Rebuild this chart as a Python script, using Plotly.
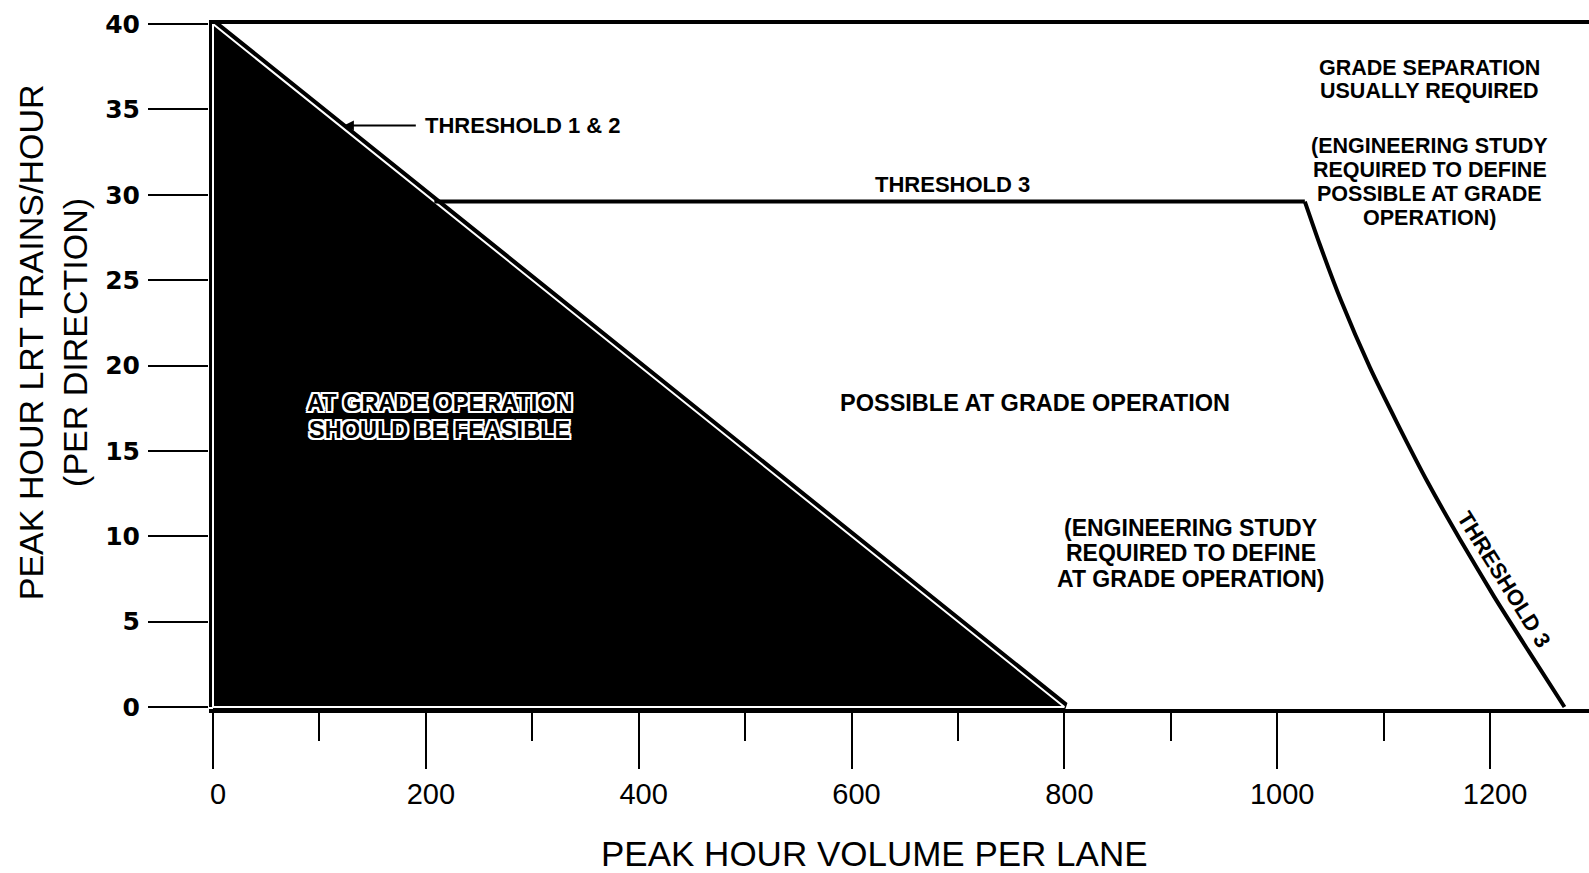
import plotly.graph_objects as go

# ---------------- data ----------------
# region where at-grade operation should be feasible (Threshold 1 & 2)
region_x = [0, 0, 800, 0]
region_y = [0, 40, 0, 0]

# Threshold 3 boundary: flat part, then curved part
thr3_flat_x = [208, 1026]
thr3_flat_y = [29.6, 29.6]
thr3_curve_x = [1026, 1040, 1060, 1087, 1113, 1142, 1172, 1204, 1236, 1270]
thr3_curve_y = [29.6, 27.1, 23.8, 19.9, 16.6, 13.1, 9.8, 6.45, 3.3, 0]

x_ticks = [0, 200, 400, 600, 800, 1000, 1200]
x_ticklabels = ["0", "200", "400", "600", "800", "1000", "1200"]
y_ticks = [0, 5, 10, 15, 20, 25, 30, 35, 40]
y_ticklabels = ["0", "5", "10", "15", "20", "25", "30", "35", "40"]

# ---------------- geometry ----------------
W, H = 1589, 873
PL, PR, PT, PB = 209, 1589, 23.5, 709        # plot area in px
X0, X1200 = 213, 1490                        # px of x=0 / x=1200
Y0, Y40 = 707, 23.5                          # px of y=0 / y=40
ppx = (X1200 - X0) / 1200
ppy = (Y0 - Y40) / 40
x_range = [(PL - X0) / ppx, (PR - X0) / ppx]
y_range = [-(PB - Y0) / ppy, 40 + (Y40 - PT) / ppy]
PW, PH = PR - PL, PB - PT

def paper_x(px):
    return (px - PL) / PW

def paper_y(py):
    return (PB - py) / PH

FONT = "Liberation Sans, Arial, sans-serif"

fig = go.Figure()

# black triangle with white inner border
fig.add_trace(go.Scatter(x=region_x, y=region_y, mode="lines", fill="toself",
                         fillcolor="black", line=dict(color="black", width=10),
                         hoverinfo="skip"))
fig.add_trace(go.Scatter(x=region_x, y=region_y, mode="lines",
                         line=dict(color="white", width=2), hoverinfo="skip"))
# threshold 3
fig.add_trace(go.Scatter(x=thr3_flat_x, y=thr3_flat_y, mode="lines",
                         line=dict(color="black", width=4), hoverinfo="skip"))
fig.add_trace(go.Scatter(x=thr3_curve_x, y=thr3_curve_y, mode="lines",
                         line=dict(color="black", width=4, shape="spline", smoothing=0.6),
                         hoverinfo="skip"))

ann = []

def txt(x, y, s, size, **kw):
    d = dict(x=x, y=y, xref="x", yref="y", text=s, showarrow=False,
             font=dict(family=FONT, size=size, color="black", weight="bold"))
    d.update(kw)
    ann.append(d)

# Threshold 1 & 2 label + arrow
txt(197, 34.05, "THRESHOLD 1 & 2", 22, xanchor="left")
ann.append(dict(x=123, y=34.05, ax=192, ay=34.05, xref="x", yref="y",
                axref="x", ayref="y", text="", showarrow=True,
                arrowhead=2, arrowsize=1, arrowwidth=2, arrowcolor="black",
                standoff=0, startstandoff=0))

txt(695, 30.6, "THRESHOLD 3", 22)
txt(772.5, 17.8, "POSSIBLE AT GRADE OPERATION", 23.5)

for yy, s in zip([10.5, 9.0, 7.48],
                 ["(ENGINEERING STUDY", "REQUIRED TO DEFINE", "AT GRADE OPERATION)"]):
    txt(919, yy, s, 23)

for yy, s in zip([37.4, 36.05],
                 ["GRADE SEPARATION", "USUALLY REQUIRED"]):
    txt(1143.5, yy, s, 21.5)
for yy, s in zip([32.85, 31.45, 30.05, 28.65],
                 ["(ENGINEERING STUDY", "REQUIRED TO DEFINE", "POSSIBLE AT GRADE", "OPERATION)"]):
    txt(1143.5, yy, s, 21.5)

txt(1213, 7.45, "THRESHOLD 3", 22, textangle=58)

outline = ("2px 0 0 #fff, -2px 0 0 #fff, 0 2px 0 #fff, 0 -2px 0 #fff, "
           "2px 2px 0 #fff, -2px -2px 0 #fff, 2px -2px 0 #fff, -2px 2px 0 #fff")
for yy, s in zip([17.83, 16.25], ["AT GRADE OPERATION", "SHOULD BE FEASIBLE"]):
    ann.append(dict(x=212.5, y=yy, xref="x", yref="y", text=s, showarrow=False,
                    font=dict(family=FONT, size=23.5, color="black", weight="bold",
                              shadow=outline)))

# axis titles
ann.append(dict(x=paper_x(874), y=paper_y(854), xref="paper", yref="paper",
                xanchor="center", yanchor="middle",
                text="PEAK HOUR VOLUME PER LANE", showarrow=False,
                font=dict(family=FONT, size=35, color="black")))
ann.append(dict(x=paper_x(53), y=paper_y(342), xref="paper", yref="paper",
                xanchor="center", yanchor="middle",
                text="PEAK HOUR LRT TRAINS/HOUR<br>(PER DIRECTION)", showarrow=False,
                textangle=-90,
                font=dict(family=FONT, size=34, color="black")))

fig.update_layout(
    width=W, height=H,
    margin=dict(l=PL, r=W - PR, t=PT, b=H - PB, autoexpand=False),
    plot_bgcolor="white", paper_bgcolor="white",
    showlegend=False,
    annotations=ann,
    xaxis=dict(range=x_range, showgrid=False, zeroline=False,
               showline=True, linewidth=4, linecolor="black", mirror=True,
               tickmode="array", tickvals=x_ticks, ticktext=x_ticklabels,
               ticks="outside", ticklen=56, tickwidth=2, tickcolor="black",
               tickfont=dict(family=FONT, size=29, color="black"),
               ticklabelshift=5,
               minor=dict(dtick=100, tick0=0, ticks="outside", ticklen=28,
                          tickwidth=2, tickcolor="black"),
               automargin=False),
    yaxis=dict(range=y_range, showgrid=False, zeroline=False, showline=False,
               tickmode="array", tickvals=y_ticks, ticktext=y_ticklabels,
               ticks="outside", ticklen=60, tickwidth=2, tickcolor="black",
               tickfont=dict(family="DejaVu Sans", size=25, color="black", weight="bold"),
               ticklabelstandoff=3,
               automargin=False),
)

fig.write_html("out.html", config={"displayModeBar": False},
               post_script="document.body.style.margin='0';")
